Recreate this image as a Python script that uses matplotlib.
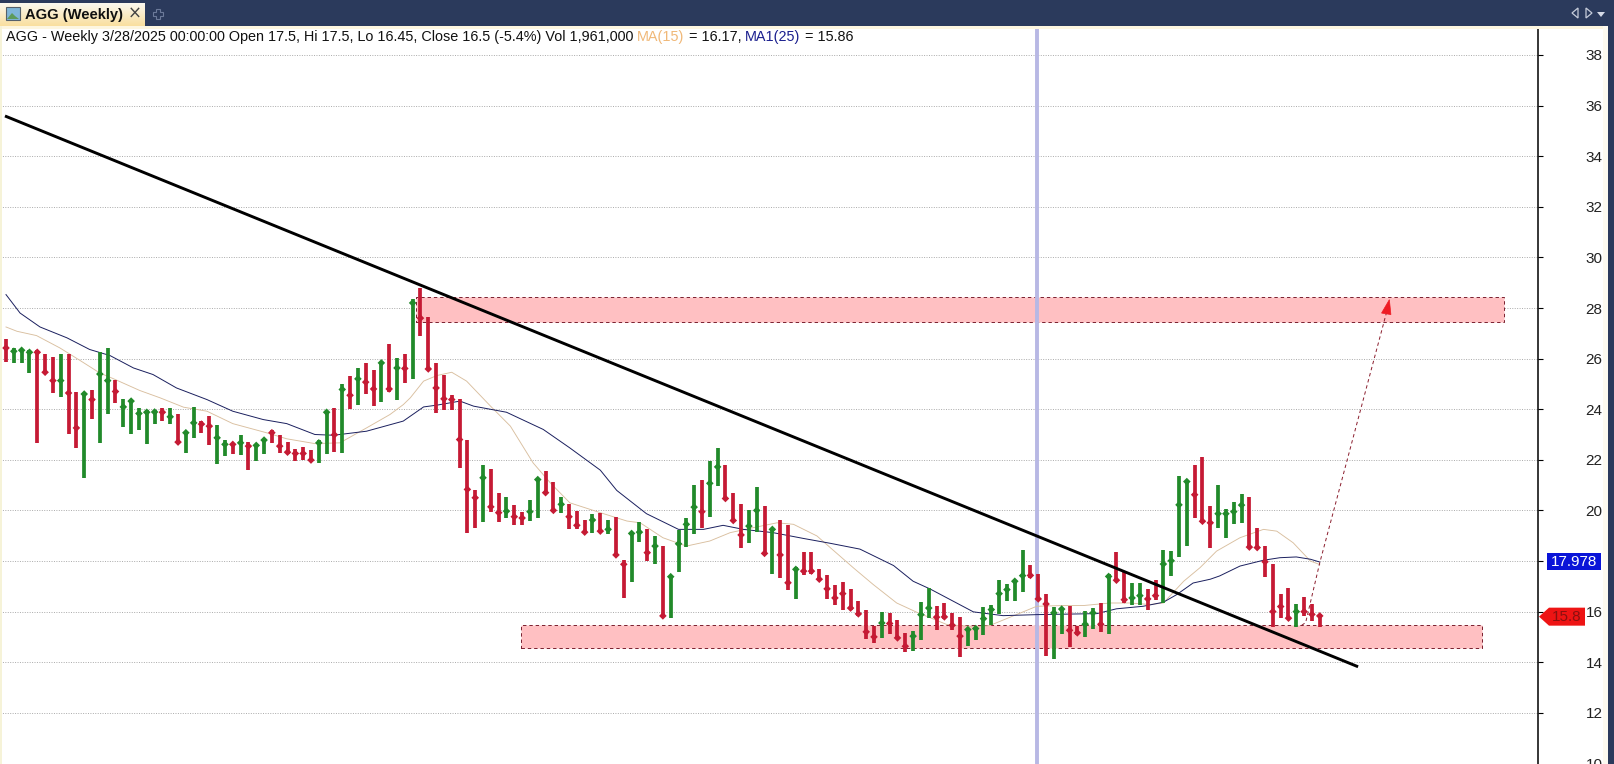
import matplotlib
matplotlib.use("Agg")
import matplotlib.pyplot as plt
import numpy as np
from matplotlib.patches import Polygon, Rectangle

plt.rcParams["font.family"] = ["Liberation Sans", "DejaVu Sans"]

# weekly bars
highs = [
    26.79, 26.42, 26.38, 26.33, 26.33, 26.20, 26.05, 26.20, 26.20, 24.67,
    24.64, 24.74, 26.25, 26.42, 25.14, 24.42, 24.36, 24.03, 23.95, 23.95,
    24.04, 24.04, 23.82, 23.11, 24.08, 23.53, 23.72, 23.37, 22.80, 22.63,
    23.00, 22.71, 22.59, 22.83, 23.16, 23.00, 22.70, 22.41, 22.51, 22.38,
    22.80, 23.92, 24.03, 25.01, 25.30, 25.61, 25.84, 25.54, 25.86, 26.59,
    26.01, 26.20, 28.36, 28.79, 27.63, 25.83, 25.37, 24.58, 24.42, 22.80,
    20.79, 21.78, 21.62, 20.67, 20.54, 20.20, 19.93, 20.43, 21.25, 21.55,
    21.12, 20.53, 20.24, 19.97, 19.64, 19.84, 19.91, 19.62, 19.75, 18.04,
    19.16, 19.54, 19.25, 18.99, 18.59, 17.41, 19.22, 19.71, 20.99, 21.22,
    21.97, 22.47, 21.78, 20.67, 20.24, 20.01, 20.92, 20.17, 19.32, 19.62,
    19.42, 17.78, 18.36, 18.36, 17.67, 17.43, 17.04, 17.16, 16.91, 16.41,
    16.08, 15.42, 16.00, 15.95, 15.66, 15.16, 15.22, 16.37, 16.95, 16.21,
    16.34, 15.95, 15.78, 15.36, 15.36, 16.17, 16.28, 17.26, 17.11, 17.26,
    18.42, 17.83, 17.50, 16.71, 16.17, 16.14, 16.21, 15.45, 16.01, 16.14,
    16.34, 17.50, 18.34, 17.59, 17.13, 17.13, 16.91, 17.26, 18.45, 18.38,
    21.34, 21.21, 21.78, 22.13, 20.17, 20.99, 20.04, 20.33, 20.63, 20.54,
    19.32, 18.59, 17.89, 16.68, 16.92, 16.32, 16.58, 16.32, 15.92,
]
lows = [
    25.86, 25.83, 25.83, 25.43, 22.67, 25.43, 24.64, 24.49, 23.03, 22.45,
    21.29, 23.62, 22.67, 23.82, 24.25, 23.28, 23.03, 23.16, 22.63, 23.43,
    23.53, 23.43, 22.67, 22.28, 22.88, 23.04, 22.59, 21.82, 22.14, 22.21,
    22.18, 21.58, 21.97, 22.21, 22.67, 22.25, 22.21, 21.97, 22.01, 21.92,
    21.86, 22.21, 22.32, 22.25, 23.99, 24.17, 24.62, 24.14, 24.29, 24.68,
    24.38, 25.04, 25.20, 26.88, 25.57, 23.86, 23.96, 23.96, 21.68, 19.12,
    19.32, 19.55, 19.95, 19.55, 19.68, 19.41, 19.41, 19.58, 19.68, 20.63,
    19.93, 19.88, 19.25, 19.28, 19.09, 19.12, 19.16, 19.05, 18.20, 16.55,
    17.18, 18.76, 18.00, 17.89, 15.79, 15.74, 17.58, 18.55, 19.05, 19.32,
    19.74, 20.96, 20.41, 19.55, 18.50, 18.72, 19.16, 18.24, 17.47, 17.32,
    16.84, 16.49, 17.43, 17.47, 17.21, 16.49, 16.28, 16.08, 16.08, 15.84,
    14.93, 14.76, 14.97, 15.12, 14.92, 14.42, 14.43, 14.86, 15.75, 15.29,
    15.71, 15.29, 14.21, 14.63, 14.86, 15.09, 15.46, 15.91, 16.43, 16.41,
    16.78, 17.33, 16.45, 14.26, 14.11, 15.12, 14.61, 15.09, 15.00, 15.33,
    15.18, 15.12, 17.20, 16.34, 16.28, 16.28, 16.08, 16.47, 16.34, 17.42,
    18.16, 18.61, 19.70, 19.50, 18.50, 19.32, 18.92, 19.47, 19.51, 18.50,
    18.49, 17.38, 15.39, 15.76, 15.70, 15.39, 15.83, 15.63, 15.39,
]
closes = [
    26.42, 26.29, 26.33, 26.25, 26.25, 25.46, 25.13, 25.13, 24.64, 23.26,
    24.60, 24.38, 25.39, 25.13, 24.70, 24.09, 24.32, 23.83, 23.88, 23.89,
    23.88, 23.70, 22.70, 23.07, 23.46, 23.41, 23.33, 22.87, 22.61, 22.61,
    22.67, 22.54, 22.57, 22.78, 23.07, 22.54, 22.30, 22.25, 22.25, 21.99,
    22.67, 23.88, 22.99, 24.78, 24.55, 25.20, 25.07, 24.80, 25.83, 24.80,
    25.63, 25.61, 28.20, 27.60, 25.59, 24.84, 24.41, 24.38, 22.80, 20.83,
    20.50, 21.29, 20.14, 19.91, 19.97, 19.75, 19.70, 19.95, 21.22, 20.70,
    20.00, 20.24, 19.75, 19.41, 19.14, 19.62, 19.18, 19.25, 18.24, 17.87,
    19.09, 19.14, 18.33, 18.59, 15.83, 17.38, 18.68, 19.45, 20.13, 19.95,
    21.07, 21.72, 20.47, 19.60, 19.03, 19.38, 20.00, 18.30, 19.25, 18.24,
    17.14, 17.67, 17.60, 17.60, 17.28, 16.90, 16.54, 16.71, 16.14, 15.91,
    15.20, 15.00, 15.55, 15.53, 14.96, 14.63, 15.03, 15.88, 16.14, 15.78,
    15.79, 15.46, 15.03, 15.29, 15.33, 15.72, 16.08, 16.71, 16.87, 17.20,
    17.42, 17.43, 16.50, 16.30, 15.95, 16.10, 15.26, 15.16, 15.50, 15.95,
    15.50, 17.39, 17.24, 16.47, 16.54, 16.63, 16.50, 16.63, 17.88, 18.01,
    20.22, 21.14, 20.62, 19.57, 19.51, 19.87, 19.87, 19.95, 20.21, 18.55,
    18.53, 17.97, 16.00, 16.20, 15.74, 16.00, 16.00, 15.89, 15.83,
]
directions = (
    "RGGGRRRGRR" "GRGGRGGGGG" "RGRGGRRGGR" "GRGGRRRRRR" "GGRGRGRRGR"
    "GRGRRRRRRR" "RGRRGRRGGR" "RGRRRGRGRR" "GGRGRGGGGR" "GGRRRGGRGR"
    "RGRRRRRRRR" "RRGRRRGGGR" "RRRGGGGGGG" "GRRRGGRRGG" "RGRRGGRRGG"
    "GGRRRGGGGR" "RRRRRGRRR"
)

# moving averages, (bar number, price)
ma25_x = [0, 1.8, 4.35, 7.8, 10.7, 13.3, 16.3, 18.8, 21.8, 25.7, 29, 32.9, 35.9, 39.5, 41.9, 46.1, 50.8, 53.4,
          55.1, 58.05, 59.8, 64, 68.7, 72.1, 76, 78.1, 81.9, 86, 89.2, 91.7, 94.3, 98.1, 102, 105.4,
          109.2, 113.5, 116, 118.2, 123.7, 127.5, 131.8, 139.5, 142, 145.4, 148, 149.7, 151.8, 154,
          155.2, 157.8, 160.8, 162.9, 165, 166.8, 168]
ma25_y = [28.53, 27.8, 27.25, 26.82, 26.36, 26.12, 25.63, 25.37, 24.84, 24.38, 23.92, 23.59, 23.43, 23.0, 22.97, 23.13, 23.53, 24.09,
          24.16, 24.32, 24.12, 23.88, 23.2, 22.47, 21.59, 20.79, 19.87, 19.25, 19.25, 19.41, 19.25, 19.12, 18.89, 18.7,
          18.47, 17.82, 17.2, 16.89, 15.99, 15.84, 15.88, 15.92, 16.11, 16.21, 16.37, 16.67, 17.13, 17.28,
          17.41, 17.8, 18.03, 18.13, 18.16, 18.07, 17.96]
ma15_x = [0, 1.4, 3.9, 6.9, 9.5, 12, 13.7, 17.1, 19.7, 22.7, 25.7, 29, 33.3, 35.9, 39.5, 42.7, 46.1, 49.1, 50.8, 51.7,
          53.4, 55.1, 57, 58.9, 61.9, 64.5, 67.4, 69.6, 72.1, 76, 79.4, 81.1, 84, 87, 90, 92.6, 95.6, 98.6, 100.7, 103.7, 105.4,
          108.4, 110.9, 113.9, 116.5, 120.3, 124.1, 125.8, 129.2, 131.8, 135.2, 137.8, 141.2, 143.7, 146.3, 148, 150.6, 152.7,
          154.8, 157.8, 160.8, 162.5, 164.6, 166.8, 168]
ma15_y = [27.25, 27.08, 26.91, 26.42, 25.92, 25.43, 25.21, 24.74, 24.45, 24.08, 23.92, 23.43, 23.07, 22.83, 22.64, 22.67, 23.26, 23.79, 24.18, 24.45,
          25.11, 25.33, 25.46, 25.11, 24.14, 23.33, 21.88, 21.09, 20.3, 19.91, 19.58, 19.51, 18.92, 18.59, 18.79, 19.12, 19.32, 19.51, 19.45, 18.99, 18.53,
          17.72, 17.07, 16.34, 15.97, 15.49, 15.39, 15.45, 15.88, 16.21, 16.24, 16.24, 16.34, 16.34, 16.28, 16.34, 17.2, 17.74,
          18.39, 18.92, 19.25, 19.18, 18.72, 18.0, 17.86]

# drawn objects on the chart, in bar number / price
trend_x = [-0.13, 172.9]
trend_y = [35.59, 13.82]
upper_zone = (52.4, 191.6, 27.45, 28.43)
lower_zone = (65.9, 188.7, 14.58, 15.46)
cursor_bar = 132
target_x = [165.7, 166.2, 168.0, 176.8]
target_y = [15.46, 15.57, 17.93, 28.13]
head_x = [176.9, 175.9, 177.1]
head_y = [28.33, 27.80, 27.74]

tick_values = list(range(10, 40, 2))
ma25_last = 17.978
close_last = 15.8

W, H = 1615, 764
AXIS_X = 1538
TOP_Y = 26
BAR_STEP = 7.82
NAVY = "#2b3a5c"
GREEN = "#218a2a"
RED = "#c51a34"

fig = plt.figure(figsize=(W / 100, H / 100), dpi=100, facecolor="white")
ax = fig.add_axes([0, 0, AXIS_X / W, (H - TOP_Y) / H])
ax.set_xlim(-6 / BAR_STEP, (AXIS_X - 6) / BAR_STEP)
ax.set_ylim(38 - (H - 55) / 25.3, 38 + (55 - TOP_Y) / 25.3)

# axis on the right, dotted price grid
for side in ["left", "top", "bottom"]:
    ax.spines[side].set_visible(False)
ax.spines["right"].set_linewidth(1.1)
ax.set_xticks([])
ax.yaxis.tick_right()
ax.set_yticks(tick_values)
# the 18 label sits behind the blue MA tag in the platform, so it stays blank
ax.set_yticklabels(["" if v == 18 else str(v) for v in tick_values])
ax.tick_params(axis="y", length=3.6, width=0.8, pad=43, labelsize=11, labelcolor="#222222")
for lbl in ax.get_yticklabels():
    lbl.set_ha("right")
ax.set_axisbelow(True)
ax.grid(axis="y", color="#aaaaaa", linewidth=0.7, linestyle=(0, (1, 1.5)))
ax.get_ygridlines()[0].set_visible(False)
ax.yaxis.get_major_ticks()[0].tick2line.set_visible(False)

# zones and cursor
for x0, x1, y0, y1 in [upper_zone, lower_zone]:
    ax.add_patch(Rectangle((x0, y0), x1 - x0, y1 - y0, facecolor="#ffc0c2", edgecolor="#7a1f2e",
                           linewidth=0.7, linestyle=(0, (3.5, 3)), zorder=1))
ax.axvline(cursor_bar - 0.1, color="#b8b8e4", linewidth=2.8, zorder=1.5)

# moving averages
ax.plot(ma15_x, ma15_y, color="#d9bf9f", linewidth=0.65, zorder=2)
ax.plot(ma25_x, ma25_y, color="#1a1f5e", linewidth=0.7, zorder=2)

# bars with a small diamond on the close
x = np.arange(len(closes))
colors = [GREEN if d == "G" else RED for d in directions]
ax.vlines(x, lows, highs, colors=colors, linewidth=2.7, zorder=3)
ax.scatter(x, closes, marker="D", s=15, c=colors, linewidths=0, zorder=3)

# trendline and the projected move
ax.plot(trend_x, trend_y, color="black", linewidth=2.1, solid_capstyle="butt", zorder=4)
ax.plot(target_x, target_y, color="#8a1c2c", linewidth=0.7, linestyle=(0, (3.5, 3)), zorder=4)
ax.add_patch(Polygon(np.column_stack([head_x, head_y]), closed=True, facecolor="#ee1c24",
                     edgecolor="#ee1c24", linewidth=0.5, zorder=5))

# header line, one colour per piece
pieces = [
    ("AGG - Weekly 3/28/2025 00:00:00 Open 17.5, Hi 17.5, Lo 16.45, Close 16.5 (-5.4%) Vol 1,961,000 ", "#111111"),
    ("MA(15)", "#f0b878"),
    (" = 16.17, ", "#111111"),
    ("MA1(25)", "#1a1f8e"),
    (" = 15.86", "#111111"),
]

# window chrome, drawn in pixel coordinates over everything else
ui = fig.add_axes([0, 0, 1, 1], zorder=10)
ui.set_xlim(0, W)
ui.set_ylim(H, 0)
ui.axis("off")
ui.patch.set_alpha(0)

ui.add_patch(Rectangle((0, 0), W, TOP_Y, facecolor=NAVY, edgecolor="none"))
ui.add_patch(Rectangle((1608, 0), W - 1608, H, facecolor=NAVY, edgecolor="none"))
ui.add_patch(Rectangle((0, TOP_Y), 1608, 3, facecolor="#fdf6e0", edgecolor="none"))
ui.add_patch(Rectangle((0, TOP_Y), 2, H - TOP_Y, facecolor="#f6f3d8", edgecolor="none"))
ui.add_patch(Rectangle((1603, TOP_Y), 5, H - TOP_Y, facecolor="#fdfaf0", edgecolor="none"))

# active tab with a light gradient
ui.imshow(np.linspace(0, 1, 24).reshape(-1, 1), extent=(0, 145, 26, 3), aspect="auto", zorder=1,
          cmap=matplotlib.colors.LinearSegmentedColormap.from_list("tab", ["#fbf8ee", "#f9dfa0"]))
ui.set_xlim(0, W)
ui.set_ylim(H, 0)
ui.add_patch(Rectangle((6, 7), 14, 13, facecolor="#7fb5d8", edgecolor="#55606a", linewidth=0.8, zorder=2))
ui.add_patch(Polygon([(7, 19), (12, 13), (15, 16), (19, 19)], facecolor="#5d9a5a", edgecolor="none", zorder=3))
ui.text(25, 14.5, "AGG (Weekly)", fontsize=10.6, fontweight="bold", color="#111111", va="center", zorder=3)
ui.text(135, 14, "\u00d7", fontsize=12, color="#444444", ha="center", va="center", zorder=3,
        family="DejaVu Sans")
ui.plot([158], [13.5], marker="P", ms=7, mfc="none", mec="#6c7a9a", mew=0.8, zorder=3)

# pager arrows top right
ui.add_patch(Polygon([(1578, 8), (1578, 18), (1572, 13)], facecolor="none", edgecolor="#c6ccda", linewidth=0.9))
ui.add_patch(Polygon([(1586, 8), (1586, 18), (1592, 13)], facecolor="none", edgecolor="#c6ccda", linewidth=0.9))
ui.add_patch(Polygon([(1597, 12), (1605, 12), (1601, 17)], facecolor="#d5dae6", edgecolor="none"))

# last value tags on the price axis
ma_y = 55 + (38 - ma25_last) * 25.3
ui.add_patch(Rectangle((1547, ma_y - 8.5), 54, 17, facecolor="#0a14d8", edgecolor="none", zorder=4))
ui.text(1574, ma_y + 0.5, f"{ma25_last:.3f}", color="white", fontsize=11, ha="center", va="center", zorder=5)
close_y = 55 + (38 - close_last) * 25.3
ui.add_patch(Polygon([(1539, close_y), (1549, close_y - 9), (1585, close_y - 9), (1585, close_y + 9), (1549, close_y + 9)],
                     facecolor="#ee1414", edgecolor="none", zorder=4))
ui.text(1567, close_y + 0.5, f"{close_last:.1f}", color="#8a1010", fontsize=11, ha="center", va="center", zorder=5)

# chain the header pieces one after the other
renderer = fig.canvas.get_renderer()
pen = 6.0
for text, color in pieces:
    t = ui.text(pen, 37, text.replace(" ", "\u00a0"), color=color, fontsize=10.37, va="center", ha="left", zorder=5)
    pen = ui.transData.inverted().transform(t.get_window_extent(renderer).get_points())[1][0]

fig.savefig("out.png", dpi=100)
